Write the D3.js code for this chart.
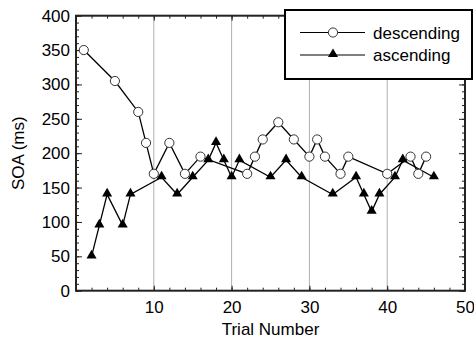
<!DOCTYPE html>
<html><head><meta charset="utf-8">
<script src="https://cdn.jsdelivr.net/npm/d3@7/dist/d3.min.js"></script>
<style>
html,body{margin:0;padding:0;background:#fff;}
svg{display:block;font-family:"Liberation Sans",Arial,sans-serif;}
</style></head>
<body>
<svg id="c" width="474" height="341"></svg>
<script>
const descTrials = [1,5,8,9,10,12,14,16,22,23,24,26,28,30,31,32,34,35,40,43,44,45];
const descValues = [350,305,260,215,170,215,170,195,170,195,220,245,220,195,220,195,170,195,170,195,170,195];
const ascTrials = [2,3,4,6,7,11,13,15,17,18,19,20,21,25,27,29,33,36,37,38,39,41,42,46];
const ascValues = [50,95,140,95,140,165,140,165,190,215,190,165,190,165,190,165,140,165,140,115,140,165,190,165];
const xTicks = [10,20,30,40,50];
const yTicks = [0,50,100,150,200,250,300,350,400];
const seriesNames = ["descending","ascending"];
const xLabel = "Trial Number";
const yLabel = "SOA (ms)";

const svg = d3.select("#c");
const L = 76, R = 465, T = 15.7, B = 290.7;
const x = d3.scaleLinear().domain([0,50]).range([L,R]);
const y = d3.scaleLinear().domain([0,400]).range([B,T]);

// gridlines
svg.append("g").selectAll("line").data(xTicks.filter(d=>d<50)).join("line")
  .attr("x1",d=>x(d)).attr("x2",d=>x(d)).attr("y1",T).attr("y2",B)
  .attr("stroke","#b0b0b0").attr("stroke-width",1);

const frameColor = "#222";
const minorX = d3.range(0,51,2), minorY = d3.range(0,401,10);
function styleAxis(g){ g.select(".domain").remove(); g.selectAll("line").attr("stroke",frameColor).attr("stroke-width",1); }

// bottom
svg.append("g").attr("transform",`translate(0,${B})`)
  .call(d3.axisBottom(x).tickValues(minorX).tickSize(-3).tickFormat("")).call(styleAxis);
svg.append("g").attr("transform",`translate(0,${B})`)
  .call(d3.axisBottom(x).tickValues(xTicks).tickSizeInner(-5).tickSizeOuter(0).tickPadding(10)).call(styleAxis)
  .call(g=>g.selectAll("text").attr("font-size",17).attr("fill","#000").attr("font-family","Liberation Sans, Arial, sans-serif"));
// top
svg.append("g").attr("transform",`translate(0,${T})`)
  .call(d3.axisTop(x).tickValues(minorX).tickSize(-3).tickFormat("")).call(styleAxis);
svg.append("g").attr("transform",`translate(0,${T})`)
  .call(d3.axisTop(x).tickValues(xTicks).tickSize(-5).tickFormat("")).call(styleAxis);
// left
svg.append("g").attr("transform",`translate(${L},0)`)
  .call(d3.axisLeft(y).tickValues(minorY).tickSize(-3).tickFormat("")).call(styleAxis);
svg.append("g").attr("transform",`translate(${L},0)`)
  .call(d3.axisLeft(y).tickValues(yTicks).tickSizeInner(-6).tickSizeOuter(0).tickPadding(6)).call(styleAxis)
  .call(g=>g.selectAll("text").attr("font-size",17).attr("fill","#000").attr("font-family","Liberation Sans, Arial, sans-serif"));
// right
svg.append("g").attr("transform",`translate(${R},0)`)
  .call(d3.axisRight(y).tickValues(minorY).tickSize(-3).tickFormat("")).call(styleAxis);
svg.append("g").attr("transform",`translate(${R},0)`)
  .call(d3.axisRight(y).tickValues(yTicks).tickSize(-6).tickFormat("")).call(styleAxis);

// frame
svg.append("rect").attr("x",L).attr("y",T).attr("width",R-L).attr("height",B-T)
  .attr("fill","none").attr("stroke",frameColor).attr("stroke-width",2);

// axis labels
svg.append("text").attr("x",(L+R)/2).attr("y",335).attr("text-anchor","middle")
  .attr("font-size",17).attr("fill","#000").text(xLabel);
svg.append("text").attr("transform",`translate(24,${(T+B)/2}) rotate(-90)`).attr("text-anchor","middle")
  .attr("font-size",17).attr("fill","#000").text(yLabel);

const desc = descTrials.map((t,i)=>({t,v:descValues[i]}));
const asc = ascTrials.map((t,i)=>({t,v:ascValues[i]}));
const line = d3.line().x(d=>x(d.t)).y(d=>y(d.v));
const tri = d3.symbol().type(d3.symbolTriangle).size(44);

svg.append("path").datum(desc).attr("d",line).attr("fill","none").attr("stroke","#000").attr("stroke-width",1.3);
svg.append("path").datum(asc).attr("d",line).attr("fill","none").attr("stroke","#000").attr("stroke-width",1.3);
svg.append("g").selectAll("circle").data(desc).join("circle")
  .attr("cx",d=>x(d.t)).attr("cy",d=>y(d.v)).attr("r",4.6)
  .attr("fill","#fff").attr("stroke","#333").attr("stroke-width",1);
svg.append("g").selectAll("path").data(asc).join("path")
  .attr("transform",d=>`translate(${x(d.t)},${y(d.v)-0.8})`).attr("d",tri).attr("fill","#000");

// legend
const lg = svg.append("g");
lg.append("rect").attr("x",285).attr("y",10).attr("width",187).attr("height",69)
  .attr("fill","#fff").attr("stroke","#000").attr("stroke-width",2);
const rows = [32.5,55];
seriesNames.forEach((name,i)=>{
  lg.append("line").attr("x1",300).attr("x2",365).attr("y1",rows[i]).attr("y2",rows[i]).attr("stroke","#000").attr("stroke-width",1.2);
  if(i===0) lg.append("circle").attr("cx",333).attr("cy",rows[i]).attr("r",4.6).attr("fill","#fff").attr("stroke","#333").attr("stroke-width",1);
  else lg.append("path").attr("transform",`translate(333,${rows[i]-0.8})`).attr("d",tri).attr("fill","#000");
  lg.append("text").attr("x",373).attr("y",rows[i]+6).attr("font-size",17).attr("fill","#000").text(name);
});
</script>
</body></html>
